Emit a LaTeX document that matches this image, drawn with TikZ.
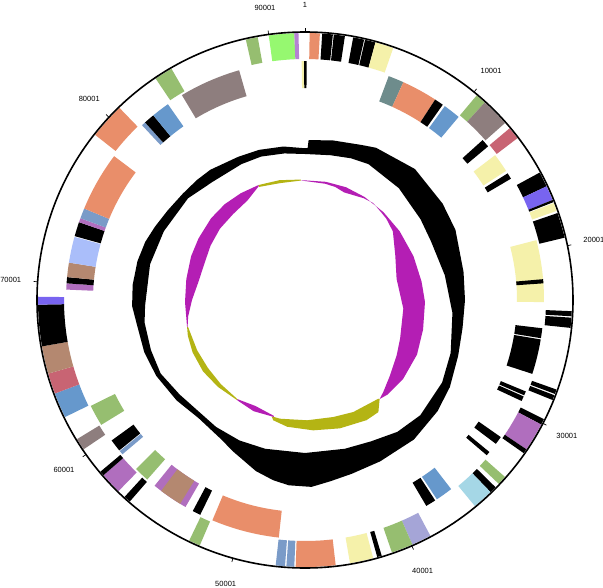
\documentclass[tikz,border=0pt]{standalone}
\usepackage{fontspec}
\setmainfont{Liberation Sans}
\usetikzlibrary{positioning}
\definecolor{cdsOrange}{RGB}{233,142,106}
\definecolor{cdsYellow}{RGB}{245,241,170}
\definecolor{cdsTeal}{RGB}{110,140,140}
\definecolor{cdsBlue}{RGB}{102,152,204}
\definecolor{cdsGreen}{RGB}{150,190,112}
\definecolor{cdsLime}{RGB}{150,248,112}
\definecolor{cdsGray}{RGB}{142,126,126}
\definecolor{cdsRose}{RGB}{200,100,115}
\definecolor{cdsViolet}{RGB}{120,100,240}
\definecolor{cdsBrown}{RGB}{180,136,112}
\definecolor{cdsLav}{RGB}{170,190,250}
\definecolor{cdsPurple}{RGB}{176,110,190}
\definecolor{cdsCyan}{RGB}{165,215,230}
\definecolor{cdsPeri}{RGB}{165,165,215}
\definecolor{cdsSteel}{RGB}{122,155,200}
\definecolor{cdsLilac}{RGB}{180,130,210}
\definecolor{skewPos}{RGB}{180,30,180}
\definecolor{skewNeg}{RGB}{180,180,20}
\tikzset{
  poslabel/.style={font=\fontsize{7.5}{8}\selectfont,inner sep=0pt},
  postick/.style={line width=0.7pt},
  backbone/.style={line width=1.6pt},
}

\begin{document}
\begin{tikzpicture}[x=1pt,y=1pt]
  \useasboundingbox[fill=white] (-305,-287) rectangle (298,300);
  \begin{scope}[rotate=90,yscale=-1]
    % forward strand
    \foreach \a/\b/\c in {1/3.2/cdsOrange, 3.7/6.0/black, 6.2/8.6/black, 10.4/12.8/black, 13.0/15.3/black,
      15.3/19.3/cdsYellow, 40/42.3/cdsGreen, 42.3/48.5/cdsGray, 50/52.7/cdsRose, 61.5/64.8/black,
      64.8/68/cdsViolet, 68/68.5/black, 68.7/70.5/cdsYellow, 71/76.5/black, 92.4/93.5/black, 93.8/96/black,
      109.6/110.6/black, 110.9/112/black, 116.5/117.8/black, 117.8/124/cdsPurple, 124/125/black,
      131.5/133.5/cdsGreen, 134.5/136/black, 136/140.5/cdsCyan, 152/156.3/cdsPeri, 156.3/161/cdsGreen,
      163.3/164.3/black, 165.2/170.3/cdsYellow, 173.4/182/cdsOrange, 182.3/184/cdsSteel, 184.3/186.3/cdsSteel,
      203.2/205.7/cdsGreen, 221/222.5/black, 224.3/229/cdsPurple, 229/230/black, 236/238.6/cdsGray,
      244/249.5/cdsBlue, 249.5/254/cdsRose, 254/260/cdsBrown, 260/269/black, 269/270.7/cdsViolet,
      308.2/316/cdsOrange, 326/330/cdsGreen, 347.2/349.8/cdsGreen, 352.2/357.7/cdsLime, 357.7/358.6/cdsLilac}
      \fill[\c] (\a:241) arc[start angle=\a,end angle=\b,radius=241] -- (\b:267)
        arc[start angle=\b,end angle=\a,radius=267] -- cycle;
    % reverse strand
    \foreach \a/\b/\c in {359.2/359.8/cdsYellow, 359.8/360.4/black, 20.5/24.3/cdsTeal, 24.3/33/cdsOrange,
      33/35.2/black, 35.8/40/cdsBlue, 48/50/black, 52.7/57.3/cdsYellow, 58/59.5/black, 75.5/90.5/cdsYellow,
      85/86/black, 96.8/99.2/black, 99.5/108/black, 112.5/113.5/black, 113.8/115/black, 125/127/black,
      129.5/130.5/black, 142.3/146.5/cdsBlue, 147/149.5/black, 186.3/202.8/cdsOrange, 206/208/black,
      210/219/cdsPurple, 211.5/217/cdsBrown, 221.3/225/cdsGreen, 229.8/230.8/cdsSteel, 231/234/black,
      238.5/243.7/cdsGreen, 272.5/274/cdsPurple, 274/275.5/black, 275.5/279/cdsBrown, 279/285.3/cdsLav,
      285.5/289/black, 289/290/cdsPurple, 290/292.5/cdsSteel, 292.5/307/cdsOrange, 317/318/cdsSteel,
      318/320.6/black, 320.6/325/cdsBlue, 329/344/cdsGray}
      \fill[\c] (\a:212) arc[start angle=\a,end angle=\b,radius=212] -- (\b:239)
        arc[start angle=\b,end angle=\a,radius=239] -- cycle;
    % GC content
    \fill[black,even odd rule] plot coordinates {(1.3:160) (10:162) (20:165) (25:168) (40:171) (55:168)
      (65:166) (80:161) (90:160) (100:160) (110:163) (121:169) (130:173) (142:177) (155:178) (165:180)
      (172:183) (178:187) (185:186) (190:183) (196:178) (205:168) (212:162) (222:159) (232:163) (243:167)
      (252:169) (262:170) (268:173) (275:173) (283:172) (290:170) (296:167) (303:164) (311:162) (318:161.5)
      (324:161) (335:158) (343:157) (352:155) (359:152) (361:152)} -- cycle
      plot coordinates {(0:146) (10:147) (18:149) (25:150) (40:146) (55:141) (65:139) (80:142) (95:148)
      (110:155) (121:160) (135:163) (145:161) (155:156) (165:154) (180:153) (195:154) (205:155) (215:155)
      (223:154) (233:157) (243:162) (252:162) (262:162) (268:160) (283:159) (296:157) (311:155) (322:150)
      (335:150) (343:150) (352:148)} -- cycle;
    % GC skew
    \fill[skewPos] plot coordinates {(-2:120) (10:120) (20:120) (30:119) (41.7:117.8) (54:117) (68:117)
      (81:118) (91:120) (104:121.7) (116:124.6) (129:126) (139:125.5) (143:124) (139.6:120.8) (131.5:113.6)
      (121:107) (112:102.6) (95:98.7) (77:94) (64:100.5) (52:111.5) (45:115) (40:116.5) (35:118.5)
      (30:117.5) (20:114.5) (15:117) (10:118) (0:119)} -- cycle;
    \fill[skewNeg] plot coordinates {(143:124) (146.8:134) (152.9:135) (164.8:133) (176.4:130.6) (188:128)
      (194.8:124.4) (196:121) (191.9:121.3) (179:120.3) (166.4:120.4) (156.7:122) (143.4:123)} -- cycle;
    \fill[skewPos] plot coordinates {(195:121) (204.8:122.5) (214.3:121) (214.3:120) (205:117) (195:120)} -- cycle;
    \fill[skewNeg] plot coordinates {(214.3:121) (225:123) (235:124.5) (245:124) (253:122.5) (257:121)
      (257:120) (245:119) (235:118.5) (225:119) (214.3:120)} -- cycle;
    \fill[skewPos] plot coordinates {(257:121) (269:120) (280:120.5) (291:122) (300:123) (311:124.5)
      (320:125) (329:124.6) (338:124) (338:123) (330:115) (320:112) (310:111) (300:109) (290:107)
      (280:108) (270:113) (262:118) (257:120.5)} -- cycle;
    \fill[skewNeg] plot coordinates {(338:124) (348:122.5) (358:120.5) (358:119.5) (348:119.5) (338:122)} -- cycle;
  \end{scope}
  \draw[backbone] (0,0) circle[radius=268];
  \foreach \p/\t in {1/0, 10001/39.1, 20001/78.3, 30001/117.4, 40001/156.5, 50001/195.6,
    60001/234.8, 70001/273.9, 80001/313.0, 90001/352.2} {
    \draw[postick] (90-\t:268) -- (90-\t:272);
    \node[poslabel] (pos\p) at (90-\t:295) {\p};
  }
\end{tikzpicture}
\end{document}
